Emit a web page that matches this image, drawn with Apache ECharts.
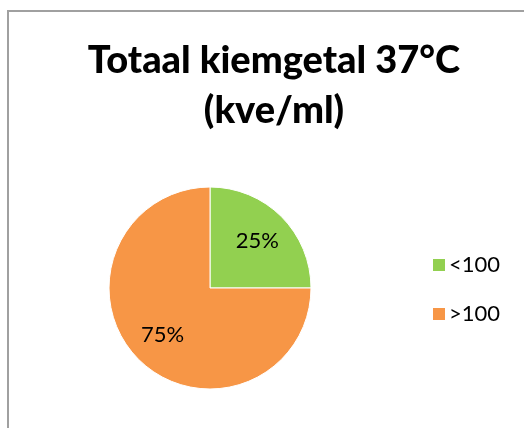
<!DOCTYPE html>
<html>
<head>
<meta charset="utf-8">
<script src="https://cdn.jsdelivr.net/npm/echarts@6/dist/echarts.min.js"></script>
<style>
  html, body { margin: 0; padding: 0; background: #fff; }
  #frame { position: absolute; left: 7px; top: 10px; width: 600px; height: 500px;
           border-left: 2px solid #a0a0a0; border-top: 2px solid #a0a0a0; }
  #chart { position: absolute; left: 0; top: 0; width: 524px; height: 428px; }
</style>
</head>
<body>
<div id="frame"></div>
<div id="chart"></div>
<script>
const categories = ['<100', '>100'];
const values = [25, 75];
const colors = ['#92D050', '#F79646'];

const chart = echarts.init(document.getElementById('chart'));
const pieData = categories.map((name, i) => ({ name: name, value: values[i], itemStyle: { color: colors[i] } }));

const option = {
  title: {
    text: 'Totaal kiemgetal 37°C\n(kve/ml)',
    left: 269,
    textAlign: 'center',
    top: 31,
    textStyle: { fontFamily: 'Lato', fontWeight: 900, fontSize: 38, lineHeight: 50, color: '#000' }
  },
  legend: {
    orient: 'vertical',
    left: 426,
    top: 249,
    itemWidth: 14,
    itemHeight: 14,
    itemGap: 27,
    icon: 'rect',
    data: categories,
    textStyle: { fontFamily: 'Lato', fontSize: 22, color: '#000', padding: [0, 0, 0, -2] }
  },
  series: [
    {
      type: 'pie',
      center: [210, 288],
      radius: [0, 101],
      startAngle: 90,
      clockwise: true,
      label: { show: false },
      labelLine: { show: false },
      itemStyle: { borderColor: '#fff', borderWidth: 1 },
      emphasis: { disabled: true },
      data: pieData
    },
    {
      type: 'pie',
      center: [210, 288],
      radius: [0, 128],
      startAngle: 90,
      clockwise: true,
      silent: true,
      itemStyle: { color: 'rgba(0,0,0,0)' },
      label: {
        show: true,
        position: 'inner',
        formatter: '{d}%',
        fontFamily: 'Lato',
        fontSize: 22,
        color: '#000'
      },
      labelLine: { show: false },
      emphasis: { disabled: true },
      data: values.map((v, i) => ({ name: categories[i], value: v }))
    }
  ]
};
chart.setOption(option);
</script>
</body>
</html>
